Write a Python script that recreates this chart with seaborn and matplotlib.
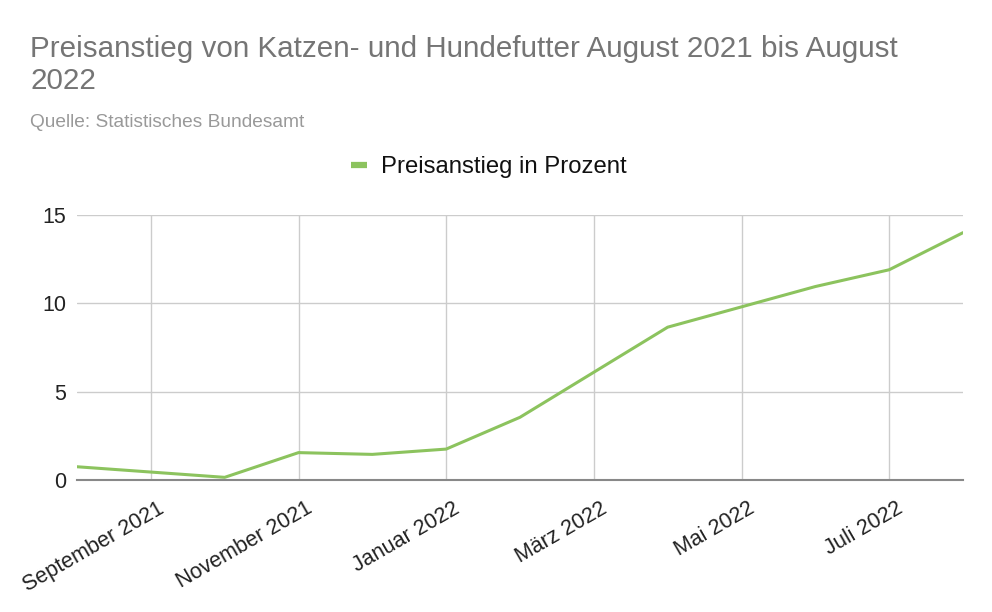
import matplotlib
matplotlib.use("Agg")
import matplotlib.pyplot as plt
import matplotlib.transforms as mtransforms
from matplotlib.lines import Line2D
import seaborn as sns
import pandas as pd

months = ["August 2021", "September 2021", "Oktober 2021", "November 2021", "Dezember 2021",
          "Januar 2022", "Februar 2022", "März 2022", "April 2022", "Mai 2022",
          "Juni 2022", "Juli 2022", "August 2022"]
values = [0.75, 0.45, 0.15, 1.55, 1.45, 1.75, 3.55, 6.1, 8.65, 9.8, 10.95, 11.9, 14.0]
tick_labels = ["September 2021", "November 2021", "Januar 2022", "März 2022", "Mai 2022", "Juli 2022"]
y_ticks = [0, 5, 10, 15]
series_name = "Preisanstieg in Prozent"
title = "Preisanstieg von Katzen- und Hundefutter August 2021 bis August\n2022"
subtitle = "Quelle: Statistisches Bundesamt"

sns.set_theme(style="white")
plt.rcParams["font.family"] = ["Liberation Sans", "DejaVu Sans"]

df = pd.DataFrame({"idx": range(len(months)), "Monat": months, "Wert": values, "Serie": series_name})

fig = plt.figure(figsize=(9.92, 6.12), dpi=100)
ax = fig.add_axes([77 / 992, 1 - 480 / 612, (963 - 77) / 992, (480 - 215) / 612])

line_color = "#8cc35e"
sns.lineplot(data=df, x="idx", y="Wert", hue="Serie", palette=[line_color], linewidth=2.2, ax=ax, legend=False)

ax.set_xlim(0, len(months) - 1)
ax.set_ylim(0, 15)
ax.set_yticks(y_ticks)
ax.set_yticklabels([str(v) for v in y_ticks], fontsize=15.5, color="#222222")
tick_pos = [months.index(t) for t in tick_labels]
ax.set_xticks(tick_pos)
ax.set_xticklabels([])
offset = mtransforms.ScaledTranslation(12 / 100, -27 / 100, fig.dpi_scale_trans)
for pos, lab in zip(tick_pos, tick_labels):
    ax.text(pos, 0, lab, transform=ax.get_xaxis_transform() + offset, fontsize=15.5,
            color="#222222", rotation=30, ha="right", va="center", rotation_mode="anchor")

ax.grid(True, axis="both", color="#cccccc", linewidth=1)
ax.tick_params(axis="both", length=0, pad=8)
for s in ["top", "right", "left"]:
    ax.spines[s].set_visible(False)
ax.spines["bottom"].set_color("#888888")
ax.spines["bottom"].set_linewidth(1.5)
ax.set_xlabel("")
ax.set_ylabel("")

fig.text(30 / 992, 1 - 35 / 612, title, fontsize=21.3, color="#757575", ha="left", va="top", linespacing=1.2)
fig.text(30 / 992, 1 - 114 / 612, subtitle, fontsize=13.8, color="#999999", ha="left", va="top")

handle = Line2D([0], [0], color=line_color, linewidth=4.5, solid_capstyle="butt")
fig.legend([handle], [series_name], loc="center", bbox_to_anchor=(489 / 992, 1 - 167 / 612),
           frameon=False, fontsize=17.2, handlelength=0.65, handletextpad=0.6, labelcolor="#111111")

fig.savefig("out.png", dpi=100)
